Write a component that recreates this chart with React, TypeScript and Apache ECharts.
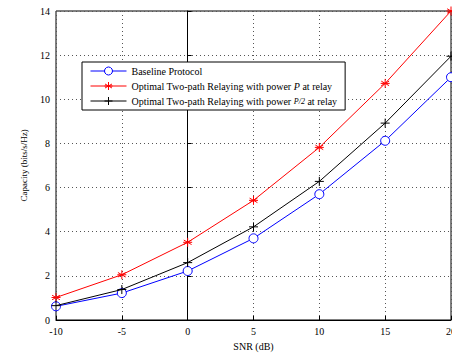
import React, { useEffect, useRef } from "react";
import * as echarts from "echarts";

const snr = [-10, -5, 0, 5, 10, 15, 20];
const baseline = [0.62, 1.22, 2.22, 3.7, 5.7, 8.12, 11.0];
const optimalP = [1.02, 2.05, 3.52, 5.42, 7.82, 10.72, 14.0];
const optimalHalf = [0.65, 1.38, 2.6, 4.22, 6.28, 8.92, 11.95];
const seriesNames = [
  "Baseline Protocol",
  "Optimal Two-path Relaying with power P at relay",
  "Optimal Two-path Relaying with power P/2 at relay",
];

const FONT = "'Liberation Serif', 'DejaVu Serif', serif";

export default function App() {
  const ref = useRef<HTMLDivElement>(null);
  useEffect(() => {
    if (!ref.current) return;
    const chart = echarts.init(ref.current, null, { renderer: "svg" });
    const pair = (ys: number[]) => snr.map((x, i) => [x, ys[i]]);
    const star = "path://M0,-10 L0,10 M-8.66,-5 L8.66,5 M-8.66,5 L8.66,-5 M-10,0 L10,0";
    const plus = "path://M0,-10 L0,10 M-10,0 L10,0";
    chart.setOption({
      animation: false,
      backgroundColor: "#fff",
      textStyle: { fontFamily: FONT },
      grid: {
        left: 56,
        top: 11,
        right: 19,
        bottom: 34,
        show: true,
        borderColor: "#000",
        borderWidth: 1,
      },
      legend: {
        orient: "vertical",
        left: 82,
        top: 62,
        backgroundColor: "#fff",
        borderColor: "#000",
        borderWidth: 1,
        borderRadius: 0,
        padding: [4, 8, 4, 8],
        itemGap: 5,
        itemWidth: 36,
        itemHeight: 10,
        lineStyle: { width: 1 },
        itemStyle: { borderWidth: 1 },
        data: seriesNames,
        textStyle: {
          fontFamily: FONT,
          fontSize: 10,
          color: "#000",
          rich: {
            i: { fontFamily: FONT, fontSize: 10, fontStyle: "italic", color: "#000" },
            f: { fontFamily: FONT, fontSize: 8, fontStyle: "italic", color: "#000" },
          },
        },
        formatter: (name: string) => {
          if (name === seriesNames[1]) return "Optimal Two-path Relaying with power {i|P} at relay";
          if (name === seriesNames[2]) return "Optimal Two-path Relaying with power {f|P/2} at relay";
          return name;
        },
      },
      xAxis: {
        type: "value",
        min: -10,
        max: 20,
        interval: 5,
        name: "SNR (dB)",
        nameLocation: "middle",
        nameGap: 21,
        nameTextStyle: { fontFamily: FONT, fontSize: 10, color: "#000" },
        axisLine: { lineStyle: { color: "#000", width: 1 } },
        axisTick: { inside: true, length: 4, lineStyle: { color: "#000" } },
        axisLabel: { fontFamily: FONT, fontSize: 10, color: "#000", margin: 6 },
        splitLine: { show: true, lineStyle: { color: "#555", type: [1, 3], width: 1 } },
      },
      yAxis: {
        type: "value",
        min: 0,
        max: 14,
        interval: 2,
        name: "Capacity (bits/s/Hz)",
        nameLocation: "middle",
        nameGap: 28,
        nameTextStyle: { fontFamily: FONT, fontSize: 9, color: "#000" },
        axisLine: { show: true, lineStyle: { color: "#000", width: 1 } },
        axisTick: { show: true, inside: true, length: 4, lineStyle: { color: "#000" } },
        axisLabel: { fontFamily: FONT, fontSize: 10, color: "#000", margin: 6 },
        splitLine: { show: true, lineStyle: { color: "#555", type: [1, 3], width: 1 } },
      },
      series: [
        {
          name: seriesNames[0],
          type: "line",
          data: pair(baseline),
          symbol: "circle",
          symbolSize: 9,
          showAllSymbol: true,
          lineStyle: { color: "#0000ff", width: 1 },
          itemStyle: { color: "#fff", borderColor: "#0000ff", borderWidth: 1 },
          z: 3,
        },
        {
          name: seriesNames[1],
          type: "line",
          data: pair(optimalP),
          symbol: star,
          symbolSize: 9,
          lineStyle: { color: "#ff0000", width: 1 },
          itemStyle: { color: "#ff0000", borderColor: "#ff0000", borderWidth: 1 },
          z: 2,
        },
        {
          name: seriesNames[2],
          type: "line",
          data: pair(optimalHalf),
          symbol: plus,
          symbolSize: 9,
          lineStyle: { color: "#000", width: 1 },
          itemStyle: { color: "#000", borderColor: "#000", borderWidth: 1 },
          z: 4,
        },
      ],
    });
    return () => chart.dispose();
  }, []);
  return (
    <div
      ref={ref}
      style={{ position: "fixed", left: 0, top: 0, width: 470, height: 356 }}
    />
  );
}
